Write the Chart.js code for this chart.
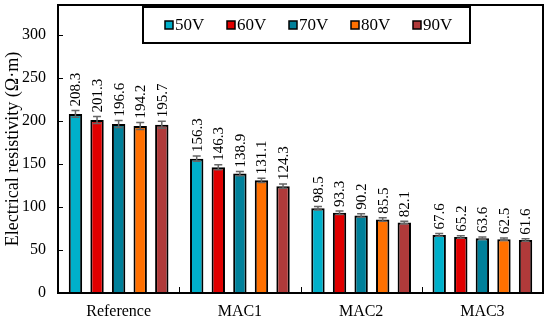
<!DOCTYPE html>
<html>
<head>
<meta charset="utf-8">
<script src="https://cdn.jsdelivr.net/npm/chart.js@4"></script>
<style>
  html, body { margin: 0; padding: 0; background: #fff; }
  #wrap { width: 550px; height: 320px; }
</style>
</head>
<body>
<div id="wrap"><canvas id="chart" width="550" height="320"></canvas></div>
<script>
const categories = ["Reference", "MAC1", "MAC2", "MAC3"];
const seriesNames = ["50V", "60V", "70V", "80V", "90V"];
const v50 = [208.3, 156.3, 98.5, 67.6];
const v60 = [201.3, 146.3, 93.3, 65.2];
const v70 = [196.6, 138.9, 90.2, 63.6];
const v80 = [194.2, 131.1, 85.5, 62.5];
const v90 = [195.7, 124.3, 82.1, 61.6];
const e50 = [4, 3, 2, 1.5];
const e60 = [4, 3, 2, 1.5];
const e70 = [4, 2.5, 2, 1.5];
const e80 = [4, 2.5, 2, 1.5];
const e90 = [4, 2.5, 1.5, 1.5];
const yTicks = [0, 50, 100, 150, 200, 250, 300];
const colors = ["#00B0CA", "#E00000", "#00809A", "#FF7000", "#B03A3A"];

const FONT = "'Liberation Serif', 'Times New Roman', serif";
const values = [v50, v60, v70, v80, v90];
const errors = [e50, e60, e70, e80, e90];

// error bars, rotated value labels, inward ticks, frame and boxed legend
const decorations = {
  id: "decorations",
  afterDatasetsDraw(chart) {
    const ctx = chart.ctx;
    const area = chart.chartArea;
    const y = chart.scales.y;
    const x = chart.scales.x;
    ctx.save();
    chart.data.datasets.forEach((ds, i) => {
      const meta = chart.getDatasetMeta(i);
      meta.data.forEach((bar, j) => {
        const err = ds.errors[j];
        const top = y.getPixelForValue(ds.data[j] + err);
        const bot = y.getPixelForValue(ds.data[j] - err);
        ctx.strokeStyle = "#666";
        ctx.lineWidth = 1.5;
        ctx.beginPath();
        ctx.moveTo(bar.x, top); ctx.lineTo(bar.x, bot);
        ctx.moveTo(bar.x - 4, top); ctx.lineTo(bar.x + 4, top);
        ctx.moveTo(bar.x - 4, bot); ctx.lineTo(bar.x + 4, bot);
        ctx.stroke();
        // value label
        ctx.save();
        ctx.translate(bar.x + 1, top - 4);
        ctx.rotate(-Math.PI / 2);
        ctx.fillStyle = "#000";
        ctx.font = "15px " + FONT;
        ctx.textAlign = "left";
        ctx.textBaseline = "middle";
        ctx.fillText(ds.data[j].toFixed(1), 0, 0);
        ctx.restore();
      });
    });
    // y ticks inward
    ctx.strokeStyle = "#000";
    ctx.lineWidth = 1;
    yTicks.forEach(t => {
      const py = Math.round(y.getPixelForValue(t)) + 0.5;
      ctx.beginPath();
      ctx.moveTo(area.left, py); ctx.lineTo(area.left + 5, py);
      ctx.stroke();
    });
    // x ticks between categories
    for (let k = 1; k < categories.length; k++) {
      const px = Math.round((x.getPixelForValue(k - 1) + x.getPixelForValue(k)) / 2) + 0.5;
      ctx.beginPath();
      ctx.moveTo(px, area.bottom); ctx.lineTo(px, area.bottom - 6);
      ctx.stroke();
    }
    // frame
    ctx.lineWidth = 2;
    ctx.strokeRect(area.left, area.top, area.right - area.left, area.bottom - area.top);
    // legend
    const lx = 143, ly = 7, lw = 327, lh = 36;
    ctx.fillStyle = "#fff";
    ctx.fillRect(lx, ly, lw, lh);
    ctx.lineWidth = 2;
    ctx.strokeStyle = "#000";
    ctx.strokeRect(lx, ly, lw, lh);
    ctx.font = "17px " + FONT;
    ctx.textBaseline = "middle";
    ctx.textAlign = "left";
    chart.data.datasets.forEach((ds, i) => {
      const mx = 165 + i * 62;
      const my = 25;
      ctx.fillStyle = ds.backgroundColor;
      ctx.fillRect(mx, my - 4, 8, 8);
      ctx.lineWidth = 1.5;
      ctx.strokeRect(mx, my - 4, 8, 8);
      ctx.fillStyle = "#000";
      ctx.fillText(ds.label, mx + 10, my + 1);
    });
    ctx.restore();
  }
};

new Chart(document.getElementById("chart"), {
  type: "bar",
  data: {
    labels: categories,
    datasets: seriesNames.map((name, i) => ({
      label: name,
      data: values[i],
      errors: errors[i],
      backgroundColor: colors[i],
      borderColor: "#000",
      borderWidth: 2,
      categoryPercentage: 0.89,
      barPercentage: 0.62,
    })),
  },
  options: {
    responsive: false,
    animation: false,
    layout: { padding: { left: 0, right: 7, top: 5, bottom: 0 } },
    plugins: { legend: { display: false }, tooltip: { enabled: false } },
    scales: {
      x: {
        grid: { display: false, drawTicks: false },
        border: { display: false },
        ticks: { color: "#000", font: { family: FONT, size: 16 }, padding: 9 },
        afterFit: (s) => { s.height = 27; s.paddingLeft = 0; s.paddingRight = 0; },
      },
      y: {
        min: 0,
        max: 335,
        afterBuildTicks: (s) => { s.ticks = yTicks.map(v => ({ value: v })); },
        grid: { display: false, drawTicks: false },
        border: { display: false },
        ticks: { color: "#000", font: { family: FONT, size: 16 }, padding: 12 },
        title: {
          display: true,
          text: "Electrical resistivity (Ω·m)",
          color: "#000",
          font: { family: FONT, size: 18 },
          padding: { top: 2, bottom: 0 },
        },
        afterFit: (s) => { s.width = 58; s.paddingTop = 0; s.paddingBottom = 0; },
      },
    },
  },
  plugins: [decorations],
});
</script>
</body>
</html>
